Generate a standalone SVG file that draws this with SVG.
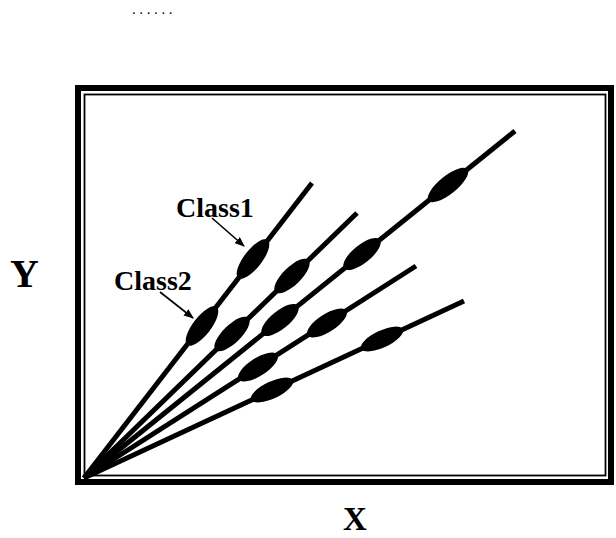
<svg xmlns="http://www.w3.org/2000/svg" width="616" height="538" viewBox="0 0 616 538">
<style>
.lbl{font-family:"Liberation Serif","Times New Roman",serif;font-weight:bold;fill:#000}
.ray{stroke:#000;stroke-width:5;stroke-linecap:butt;fill:none}
.cls{fill:#000}
.arr{stroke:#000;stroke-width:1.6;fill:none}
</style>
<defs>
<marker id="ah" markerWidth="10" markerHeight="8" refX="9" refY="4" orient="auto" markerUnits="userSpaceOnUse">
<path d="M0,0 L10,4 L0,8 z" fill="#000"/>
</marker>
</defs>
<rect width="616" height="538" fill="#fff"/>
<text class="lbl" x="132" y="14" style="font-weight:normal;font-size:15px;letter-spacing:3.6px">......</text>
<g id="frame">
<rect x="78" y="88" width="533" height="394" fill="none" stroke="#000" stroke-width="6"/>
<rect x="84.5" y="94.5" width="521" height="381" fill="none" stroke="#000" stroke-width="1.8"/>
</g>
<g id="axis-labels">
<text class="lbl" x="10" y="287" style="font-size:40px">Y</text>
<text class="lbl" x="355" y="530" text-anchor="middle" style="font-size:33px">X</text>
</g>
<g id="connectors">
<line class="ray" x1="84" y1="478" x2="312" y2="183"/>
<line class="ray" x1="84" y1="478" x2="357" y2="213"/>
<line class="ray" x1="84" y1="478" x2="515" y2="131"/>
<line class="ray" x1="84" y1="478" x2="416" y2="266"/>
<line class="ray" x1="84" y1="478" x2="464" y2="301"/>
<line class="arr" x1="212" y1="218" x2="244" y2="246" marker-end="url(#ah)"/>
<line class="arr" x1="160" y1="292" x2="193" y2="318" marker-end="url(#ah)"/>
</g>
<g id="clusters">
<ellipse class="cls" cx="253" cy="259" rx="24" ry="9" transform="rotate(-52.3 253 259)"/>
<ellipse class="cls" cx="202" cy="326" rx="24" ry="9" transform="rotate(-52.3 202 326)"/>
<ellipse class="cls" cx="292" cy="276" rx="23" ry="9" transform="rotate(-44.1 292 276)"/>
<ellipse class="cls" cx="232" cy="334" rx="23" ry="9" transform="rotate(-44.1 232 334)"/>
<ellipse class="cls" cx="448" cy="185" rx="25" ry="9" transform="rotate(-38.9 448 185)"/>
<ellipse class="cls" cx="362" cy="254" rx="23" ry="9" transform="rotate(-38.9 362 254)"/>
<ellipse class="cls" cx="280" cy="320" rx="23" ry="9" transform="rotate(-38.9 280 320)"/>
<ellipse class="cls" cx="327" cy="323" rx="23" ry="9" transform="rotate(-32.6 327 323)"/>
<ellipse class="cls" cx="258" cy="367" rx="23" ry="9" transform="rotate(-32.6 258 367)"/>
<ellipse class="cls" cx="382" cy="339" rx="23" ry="8.5" transform="rotate(-25 382 339)"/>
<ellipse class="cls" cx="272" cy="390" rx="23" ry="8.5" transform="rotate(-25 272 390)"/>
</g>
<g id="class1">
<text class="lbl" x="176" y="217" style="font-size:28px">Class1</text>
</g>
<g id="class2">
<text class="lbl" x="114" y="290" style="font-size:28px">Class2</text>
</g>
</svg>
